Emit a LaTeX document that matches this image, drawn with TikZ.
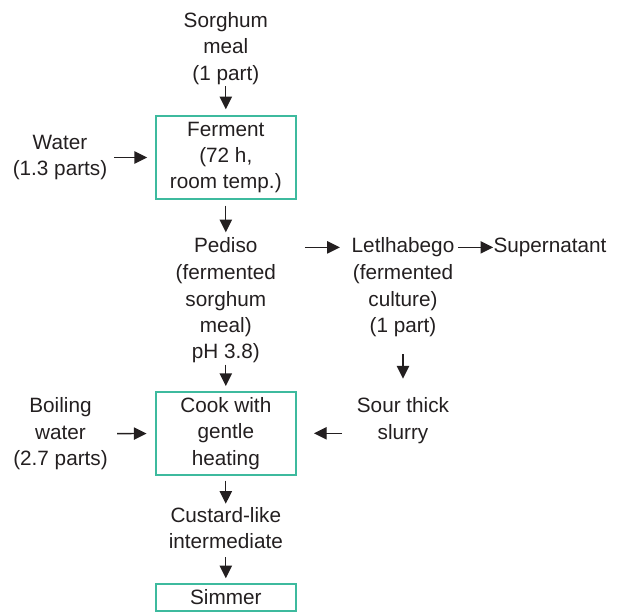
\documentclass[tikz,border=0pt]{standalone}
\usepackage{fontspec}
\setmainfont{Liberation Sans}
\usetikzlibrary{arrows.meta,positioning}
\definecolor{boxcol}{RGB}{61,186,158}
\definecolor{inkcol}{RGB}{35,31,32}
\tikzstyle{proc}=[draw=boxcol, line width=0.85pt, minimum width=2.8cm, inner sep=0pt, align=center, text=inkcol]
\tikzstyle{txt}=[inner sep=0pt, align=center, text=inkcol]
\tikzstyle{head}=[txt, text height=8.6pt, text depth=2.5pt]
\tikzstyle{flow}=[-{Triangle[length=7.2pt,width=7pt]}, line width=0.75pt, inkcol]

\begin{document}
\begin{tikzpicture}[x=0.02cm, y=-0.02cm, font=\fontsize{11.8}{15}\selectfont]
	\useasboundingbox (0,0) rectangle (621,611);

	% Main column
	\node[txt] (sorghum) at (225.8, 48.3) {Sorghum\\meal\\(1 part)};
	\node[proc, minimum height=1.66cm] (ferment) at (225.8, 157.5) {Ferment\\(72 h,\\room temp.)};
	\node[head] (pediso) at (225.8, 247.4) {Pediso};
	\node[txt, below=0.14cm of pediso] (pedisonote) {(fermented\\sorghum\\meal)\\pH 3.8)};
	\node[proc, minimum height=1.66cm] (cook) at (225.8, 433.3) {Cook with\\gentle\\heating};
	\node[txt] (custard) at (225.8, 527.8) {Custard-like\\intermediate};
	\node[proc, minimum height=0.54cm] (simmer) at (225.8, 597.5) {Simmer};

	% Inputs on the left
	\node[txt] (water) at (60, 157.5) {Water\\(1.3 parts)};
	\node[txt] (boiling) at (60.5, 433.8) {Boiling\\water\\(2.7 parts)};

	% Culture branch
	\node[head] (letl) at (403, 247.4) {Letlhabego};
	\node[txt, below=0.14cm of letl] (letlnote) {(fermented\\culture)\\(1 part)};
	\node[head] (super) at (550, 247.4) {Supernatant};
	\node[txt] (slurry) at (403, 420.8) {Sour thick\\slurry};

	% Down the main column
	\draw[flow, shorten <=0.03cm, shorten >=0.12cm] (sorghum) -- (ferment);
	\draw[flow, shorten <=0.12cm, shorten >=0.1cm] (ferment) -- (pediso);
	\draw[flow, shorten <=0.02cm, shorten >=0.1cm] (pedisonote) -- (cook);
	\draw[flow, shorten <=0.1cm, shorten >=0.06cm] (cook) -- (custard);
	\draw[flow, shorten <=0.17cm, shorten >=0.1cm] (custard) -- (simmer);
	% Side inputs
	\draw[flow, shorten <=0.13cm, shorten >=0.16cm] (water) -- (ferment);
	\draw[flow, shorten <=0.18cm, shorten >=0.17cm] (boiling) -- (cook);
	% Branch out and back
	\draw[flow, shorten <=0.94cm, shorten >=0.23cm] (pediso) -- (letl);
	\draw[flow, shorten <=0.07cm] (letl) -- (super);
	\draw[flow, shorten <=0.34cm, shorten >=0.38cm] (letlnote) -- (slurry);
	\draw[flow, shorten <=0.29cm, shorten >=0.35cm] (slurry.west |- cook) -- (cook);
\end{tikzpicture}
\end{document}
